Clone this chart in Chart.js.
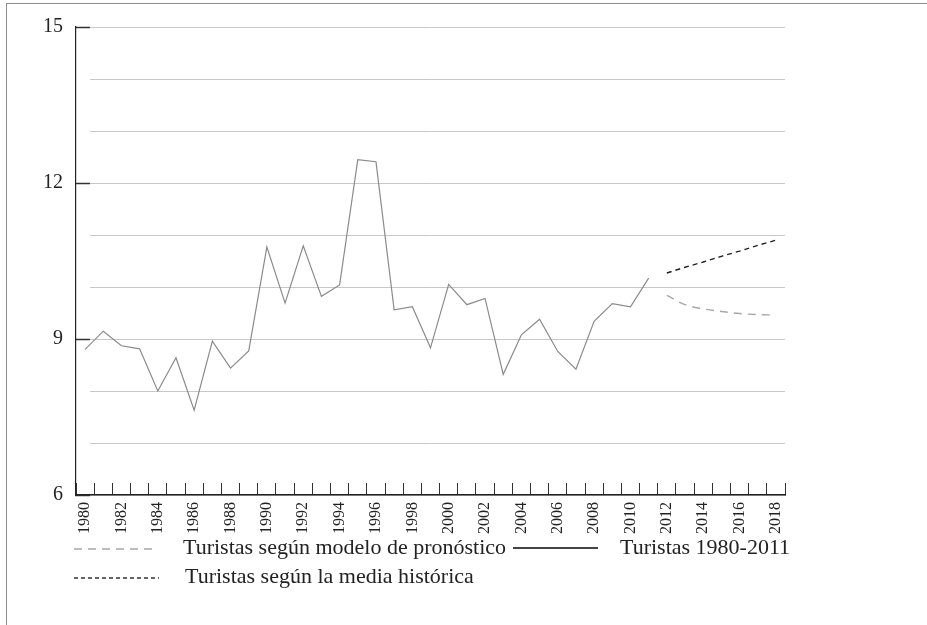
<!DOCTYPE html>
<html>
<head>
<meta charset="utf-8">
<script src="https://cdn.jsdelivr.net/npm/chart.js@4.4.1/dist/chart.umd.min.js"></script>
<style>
html, body { margin: 0; padding: 0; background: #fff; }
#wrap { position: relative; width: 927px; height: 625px; overflow: hidden; }
#frame { position: absolute; left: 6px; top: 3px; right: -4px; bottom: -4px;
         border-top: 1.5px solid #8a8a8a; border-left: 1.5px solid #8a8a8a; }
canvas { position: absolute; left: 0; top: 0; }
</style>
</head>
<body>
<div id="wrap"><div id="frame"></div><canvas id="chart" width="927" height="625"></canvas></div>
<script>
// años (eje x)
var years = ["1980","1981","1982","1983","1984","1985","1986","1987","1988","1989",
             "1990","1991","1992","1993","1994","1995","1996","1997","1998","1999",
             "2000","2001","2002","2003","2004","2005","2006","2007","2008","2009",
             "2010","2011","2012","2013","2014","2015","2016","2017","2018"];

// turistas 1980-2011
var tourists = [8.80, 9.15, 8.87, 8.81, 8.00, 8.64, 7.63, 8.96, 8.44, 8.77,
                10.77, 9.69, 10.79, 9.82, 10.04, 12.45, 12.41, 9.56, 9.62, 8.83,
                10.05, 9.66, 9.78, 8.32, 9.08, 9.38, 8.76, 8.42, 9.34, 9.68,
                9.62, 10.17];

// pronósticos 2012-2018
var forecastModel = [9.84, 9.66, 9.58, 9.53, 9.49, 9.47, 9.46];
var forecastMean = [10.27, 10.38, 10.48, 10.59, 10.69, 10.80, 10.90];

var yMin = 6, yMax = 15, yStep = 1;

var legendLabels = ["Turistas según modelo de pronóstico", "Turistas 1980-2011", "Turistas según la media histórica"];

var pad = function(n){ var a = []; for (var i = 0; i < n; i++) a.push(null); return a; };
var histData = tourists.concat(pad(years.length - tourists.length));
var modelData = pad(tourists.length).concat(forecastModel);
var meanData = pad(tourists.length).concat(forecastMean);

var serif = "'Liberation Serif', 'DejaVu Serif', serif";

// leyenda de abajo
var legendPlugin = {
  id: 'legendRows',
  afterDraw: function(chart){
    var c = chart.ctx;
    c.save();
    function sample(x1, x2, y, color, width, dash){
      c.beginPath();
      c.setLineDash(dash);
      c.strokeStyle = color;
      c.lineWidth = width;
      c.moveTo(x1, y);
      c.lineTo(x2, y);
      c.stroke();
    }
    sample(74, 158, 549, '#a8a8a8', 1.3, [8, 6]);
    sample(513, 598, 548, '#444', 2, []);
    sample(74, 159, 578, '#333', 1.3, [4, 3]);
    c.setLineDash([]);
    c.font = '22px ' + serif;
    c.fillStyle = '#222';
    c.textBaseline = 'middle';
    c.fillText(legendLabels[0], 183, 548);
    c.fillText(legendLabels[1], 620, 548);
    c.fillText(legendLabels[2], 185, 577);
    c.restore();
  }
};

new Chart(document.getElementById("chart"), {
  type: 'line',
  data: {
    labels: years,
    datasets: [
      {
        label: legendLabels[1],
        data: histData,
        borderColor: '#8a8a8a',
        borderWidth: 1.2,
        pointRadius: 0,
        tension: 0,
        fill: false
      }, {
        label: legendLabels[0],
        data: modelData,
        borderColor: '#a8a8a8',
        borderWidth: 1.4,
        borderDash: [8, 6],
        pointRadius: 0,
        cubicInterpolationMode: 'monotone',
        fill: false
      }, {
        label: legendLabels[2],
        data: meanData,
        borderColor: '#222',
        borderWidth: 1.4,
        borderDash: [5, 4],
        pointRadius: 0,
        tension: 0,
        fill: false
      }
    ]
  },
  options: {
    responsive: false,
    animation: false,
    layout: { padding: { left: 0, right: 142, top: 27, bottom: 0 } },
    plugins: { legend: { display: false }, tooltip: { enabled: false } },
    scales: {
      x: {
        type: 'category',
        offset: true,
        grid: { offset: true, drawOnChartArea: false, drawTicks: true, tickLength: -12, tickColor: '#333', tickWidth: 1 },
        border: { display: true, color: '#222', width: 1.5 },
        ticks: {
          autoSkip: false, maxRotation: 90, minRotation: 90, padding: 19,
          color: '#222', font: { family: serif, size: 16 },
          callback: function(v, i){ return i % 2 === 0 ? this.getLabelForValue(v) : ''; }
        },
        afterFit: function(s){ s.height = 130; }
      },
      y: {
        min: yMin, max: yMax,
        ticks: {
          stepSize: yStep, padding: 27, color: '#222', font: { family: serif, size: 20 },
          callback: function(v){ return v % 3 === 0 ? v : ''; }
        },
        grid: {
          color: '#c8c8c8', lineWidth: 1, tickLength: -14,
          tickColor: function(ctx){ return ctx.tick && ctx.tick.value % 3 === 0 ? '#333' : '#fff'; },
          tickWidth: function(ctx){ return ctx.tick && ctx.tick.value % 3 === 0 ? 1.5 : 3; }
        },
        border: { color: '#222', width: 1.2 },
        afterFit: function(s){ s.width = 76; s.paddingTop = 12; s.paddingBottom = 12; }
      }
    }
  },
  plugins: [legendPlugin]
});
</script>
</body>
</html>
